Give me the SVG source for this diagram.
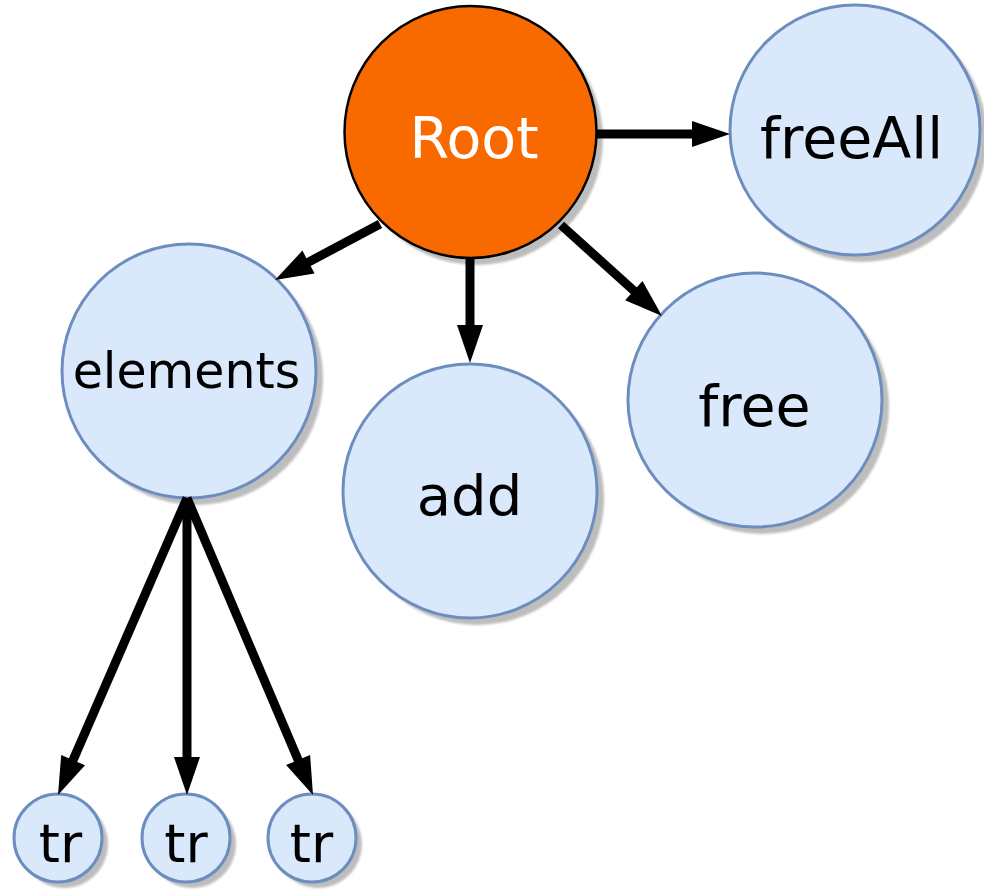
<svg xmlns="http://www.w3.org/2000/svg" width="984" height="891" viewBox="0 0 984 891">
  <style>
    .leaf { fill: #dae8fc; stroke: #6c8ebf; stroke-width: 3; }
    .root { fill: #f86a00; stroke: #000000; stroke-width: 2.5; }
    .shadow { fill: #bdbdbd; filter: url(#soft); }
    .label { font-family: "DejaVu Sans", Verdana, sans-serif; text-anchor: middle; fill: #000000; }
    .edge { stroke: #000000; stroke-width: 9; fill: none; }
    .head { fill: #000000; stroke: none; }
  </style>
  <defs>
    <filter id="soft" x="-10%" y="-10%" width="120%" height="120%">
      <feGaussianBlur stdDeviation="1"/>
    </filter>
  </defs>

  <g id="node-root">
    <circle class="shadow" cx="477" cy="139" r="126"/>
    <circle class="root" cx="470.5" cy="132" r="126"/>
    <text class="label" x="474" y="158" font-size="57" style="fill:#ffffff">Root</text>
  </g>

  <g id="node-freeAll">
    <circle class="shadow" cx="862" cy="137" r="125"/>
    <circle class="leaf" cx="855" cy="130" r="125"/>
    <text class="label" x="851.5" y="158" font-size="57">freeAll</text>
  </g>

  <g id="node-elements">
    <circle class="shadow" cx="196" cy="378" r="127"/>
    <circle class="leaf" cx="189" cy="371" r="127"/>
    <text class="label" x="186.5" y="388" font-size="49">elements</text>
  </g>

  <g id="node-add">
    <circle class="shadow" cx="477" cy="498" r="127"/>
    <circle class="leaf" cx="470" cy="491" r="127"/>
    <text class="label" x="469.5" y="515" font-size="56">add</text>
  </g>

  <g id="node-free">
    <circle class="shadow" cx="762" cy="407" r="127"/>
    <circle class="leaf" cx="755" cy="400" r="127"/>
    <text class="label" x="754.5" y="426" font-size="57">free</text>
  </g>

  <g id="node-tr1">
    <circle class="shadow" cx="64" cy="844" r="44"/>
    <circle class="leaf" cx="58" cy="838" r="44"/>
    <text class="label" x="60.5" y="862" font-size="54">tr</text>
  </g>

  <g id="node-tr2">
    <circle class="shadow" cx="192" cy="844" r="44"/>
    <circle class="leaf" cx="186" cy="838" r="44"/>
    <text class="label" x="186" y="862" font-size="54">tr</text>
  </g>

  <g id="node-tr3">
    <circle class="shadow" cx="318" cy="844" r="44"/>
    <circle class="leaf" cx="312" cy="838" r="44"/>
    <text class="label" x="311.5" y="862" font-size="54">tr</text>
  </g>

  <g id="connectors">
    <!-- shafts -->
    <line class="edge" x1="597" y1="134" x2="694" y2="134"/>
    <line class="edge" x1="380" y1="224" x2="306.7" y2="263.1"/>
    <line class="edge" x1="470" y1="258" x2="470" y2="327"/>
    <line class="edge" x1="561" y1="225" x2="635.3" y2="292"/>
    <line class="edge" x1="187" y1="498" x2="72.3" y2="761.9"/>
    <line class="edge" x1="187" y1="498" x2="187" y2="759"/>
    <line class="edge" x1="187" y1="498" x2="298.9" y2="761.8"/>
    <!-- arrowheads -->
    <polygon class="head" points="730,134 692,121 692,147"/>
    <polygon class="head" points="275,280 302.4,250.6 314.6,273.6"/>
    <polygon class="head" points="470,363 457,325 483,325"/>
    <polygon class="head" points="662,316 625.1,300.3 642.5,280.9"/>
    <polygon class="head" points="58,795 61.2,754.9 85,765.3"/>
    <polygon class="head" points="187,795 174,757 200,757"/>
    <polygon class="head" points="313,795 286.1,765.1 310.1,754.9"/>
  </g>
</svg>
